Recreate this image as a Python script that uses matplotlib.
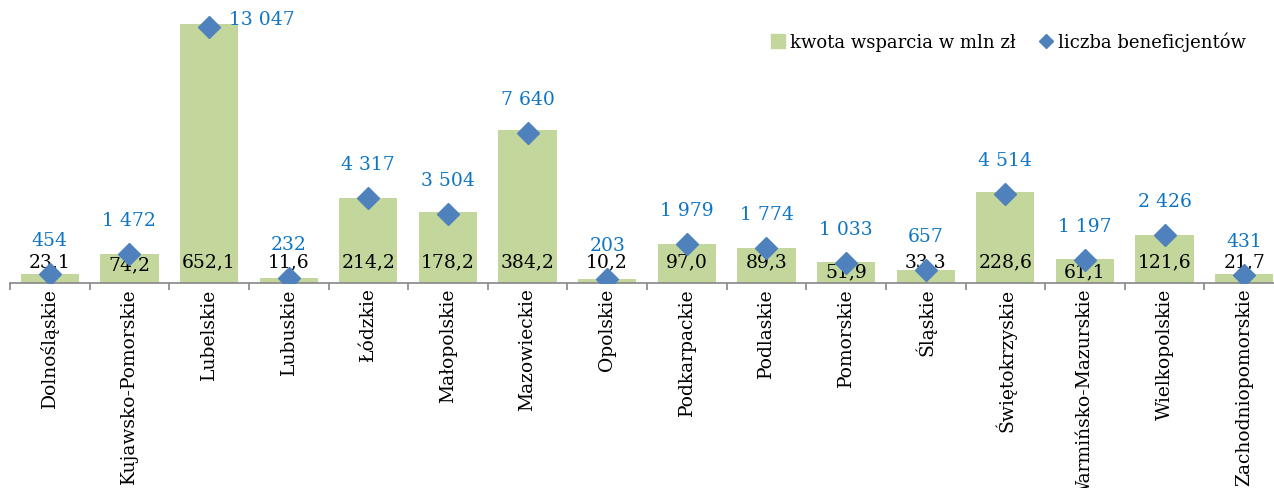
import matplotlib
matplotlib.use("Agg")
import matplotlib.pyplot as plt
import numpy as np

categories = ["Dolnośląskie", "Kujawsko-Pomorskie", "Lubelskie", "Lubuskie", "Łódzkie",
              "Małopolskie", "Mazowieckie", "Opolskie", "Podkarpackie", "Podlaskie",
              "Pomorskie", "Śląskie", "Świętokrzyskie", "Warmińsko-Mazurskie",
              "Wielkopolskie", "Zachodniopomorskie"]
kwota = [23.1, 74.2, 652.1, 11.6, 214.2, 178.2, 384.2, 10.2, 97.0, 89.3, 51.9, 33.3,
         228.6, 61.1, 121.6, 21.7]
beneficjenci = [454, 1472, 13047, 232, 4317, 3504, 7640, 203, 1979, 1774, 1033, 657,
                4514, 1197, 2426, 431]

BAR = "#C3D69B"
DIA = "#4F81BD"
BLUE_TXT = "#0E75C5"
FONT = "DejaVu Serif"
plt.rcParams["font.family"] = [FONT]

W, H = 1274, 488
fig = plt.figure(figsize=(W / 100, H / 100), dpi=100)
left, right, top, bottom = 10, 1284, 0, 283
ax = fig.add_axes([left / W, (H - bottom) / H, (right - left) / W, (bottom - top) / H])
ax2 = ax.twinx()

x = np.arange(len(categories))
ax.bar(x, kwota, width=0.73, color=BAR, zorder=2)
ax.set_xlim(-0.5, len(categories) - 0.5)
ax.set_ylim(0, 712.8)
ax2.set_ylim(0, 14417)
ax2.plot(x, beneficjenci, linestyle="none", marker="D", markersize=11, color=DIA, zorder=3)

for a in (ax, ax2):
    for s in ("top", "right", "left"):
        a.spines[s].set_visible(False)
    a.set_yticks([])
ax2.spines["bottom"].set_visible(False)
ax.spines["bottom"].set_color("#868686")
ax.spines["bottom"].set_linewidth(1.2)

ax.set_xticks(x)
ax.set_xticklabels(categories, rotation=90, fontsize=13.5, va="top")
ax.tick_params(axis="x", which="major", length=0, pad=4)
ax.set_xticks(np.arange(len(categories) + 1) - 0.5, minor=True)
ax.tick_params(axis="x", which="minor", length=5, color="#868686", width=1.2, direction="out")

# bar value labels (placed near the base of the bars)
nudged = {"51,9": -10, "61,1": -10, "74,2": -3}
for xi, v in zip(x, kwota):
    s = f"{v:.1f}".replace(".", ",")
    off = nudged.get(s, 0)
    ax.annotate(s, (xi, 0), xytext=(0, 21 + off), textcoords="offset pixels",
                ha="center", va="center", fontsize=13.5, color="black", zorder=5)

# beneficiary labels
for xi, v in zip(x, beneficjenci):
    s = f"{v:,}".replace(",", " ")
    if v > 12000:
        ax2.annotate(s, (xi, v), xytext=(20, 7), textcoords="offset pixels",
                     ha="left", va="center", fontsize=13.5, color=BLUE_TXT, zorder=5)
    else:
        ax2.annotate(s, (xi, v), xytext=(0, 33), textcoords="offset pixels",
                     ha="center", va="center", fontsize=13.5, color=BLUE_TXT, zorder=5)

from matplotlib.lines import Line2D
handles = [Line2D([], [], linestyle="none", marker="s", markersize=10, color=BAR),
           Line2D([], [], linestyle="none", marker="D", markersize=7, color=DIA)]
fig.legend(handles, ["kwota wsparcia w mln zł", "liczba beneficjentów"],
           loc="center right", bbox_to_anchor=(1262 / W, 1 - 42 / H), ncol=2,
           frameon=False, fontsize=13, handlelength=0.8, handletextpad=0.25,
           columnspacing=1.3)

fig.savefig("out.png", dpi=100)
